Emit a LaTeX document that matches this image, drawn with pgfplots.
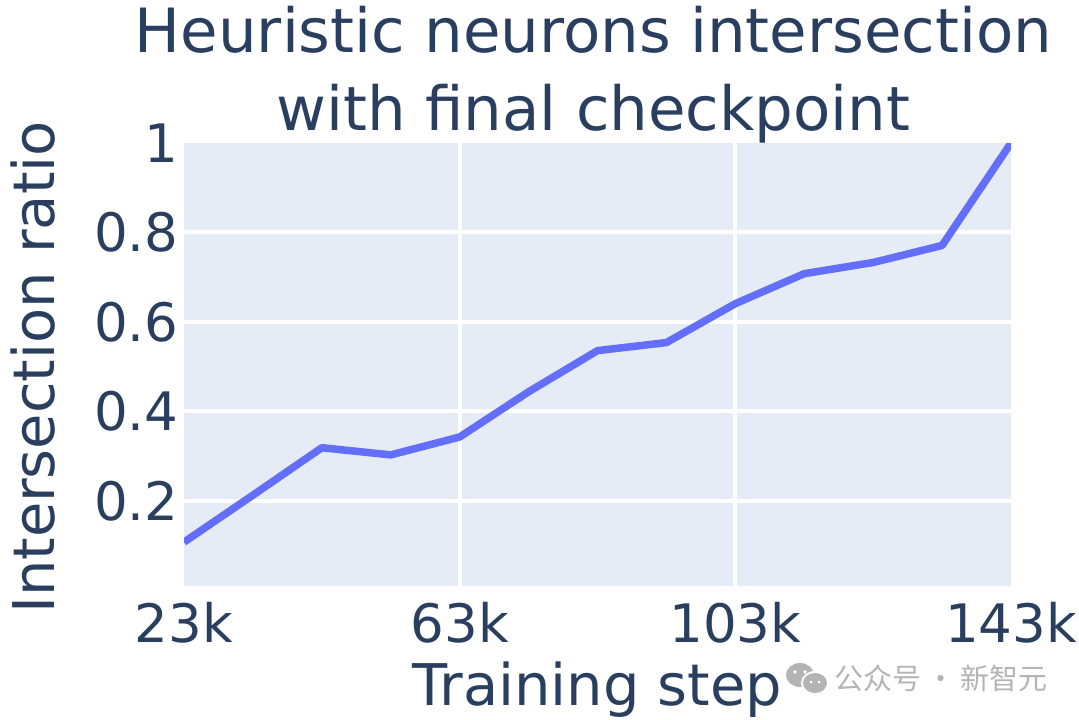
\documentclass[border=0pt]{standalone}
\usepackage{fontspec}
\setmainfont{DejaVu Sans}
\newfontfamily\cjk{Noto Sans CJK SC}
\usepackage{pgfplots}
\pgfplotsset{compat=1.18}
\definecolor{plotbg}{HTML}{E5ECF6}
\definecolor{inkblue}{HTML}{2A3F5F}
\definecolor{lineblue}{HTML}{636EFA}
\definecolor{markgray}{HTML}{B4B4B4}
\begin{document}
\begin{tikzpicture}
\path[use as bounding box] (0pt,0pt) rectangle (1079pt,720pt);
\begin{axis}[
    at={(184pt,134pt)},
    anchor=south west,
    scale only axis,
    width=827pt,
    height=443pt,
    xmin=23, xmax=143,
    ymin=0.01, ymax=1,
    axis background/.style={fill=plotbg},
    axis line style={draw=none},
    major tick length=0pt,
    xtick={23,63,103,143},
    xticklabels={23k,63k,103k,143k},
    ytick={0.2,0.4,0.6,0.8,1},
    yticklabels={0.2,0.4,0.6,0.8,1},
    % only the inner lines are white, the edges stay free
    extra x ticks={63,103},
    extra x tick labels={},
    extra x tick style={xmajorgrids=true},
    extra y ticks={0.2,0.4,0.6,0.8},
    extra y tick labels={},
    extra y tick style={ymajorgrids=true},
    grid style={white,line width=4pt},
    tick label style={font=\fontsize{53}{53}\selectfont,text=inkblue},
    xticklabel style={yshift=-13pt},
    yticklabel style={xshift=-2pt},
    xlabel={Training step},
    ylabel={Intersection ratio},
    label style={font=\fontsize{57.5}{58}\selectfont,text=inkblue},
    xlabel style={at={(0.5,0)},anchor=north,yshift=-72pt},
    ylabel style={at={(0,0.5)},anchor=south,yshift=125pt,xshift=-3pt},
    title={Heuristic neurons intersection\\with final checkpoint},
    title style={font=\fontsize{61}{78}\selectfont,text=inkblue,align=center,
        at={(0.5,1)},anchor=south,xshift=-4pt,yshift=-9.5pt},
]
\addplot[lineblue,line width=7.5pt,line join=round] coordinates {
    (23,0.108) (33,0.213) (43,0.319) (53,0.303) (63,0.343) (73,0.444) (83,0.536)
    (93,0.554) (103,0.641) (113,0.708) (123,0.733) (133,0.771) (143,1)
};
\end{axis}
% watermark
\fill[markgray] (800pt,45pt) ellipse (14pt and 12pt);
\fill[white] (815pt,37pt) ellipse (14pt and 12pt);
\fill[markgray] (815pt,37pt) ellipse (12pt and 10pt);
\fill[white] (795pt,48pt) circle (1.8pt) (805pt,48pt) circle (1.8pt) (811pt,38pt) circle (1.5pt) (819pt,38pt) circle (1.5pt);
\node[anchor=west,text=markgray,font=\cjk\fontsize{29}{29}\selectfont,inner sep=0pt] at (834pt,42pt) {公众号\hspace{5pt}·\hspace{5pt}新智元};
\end{tikzpicture}
\end{document}
